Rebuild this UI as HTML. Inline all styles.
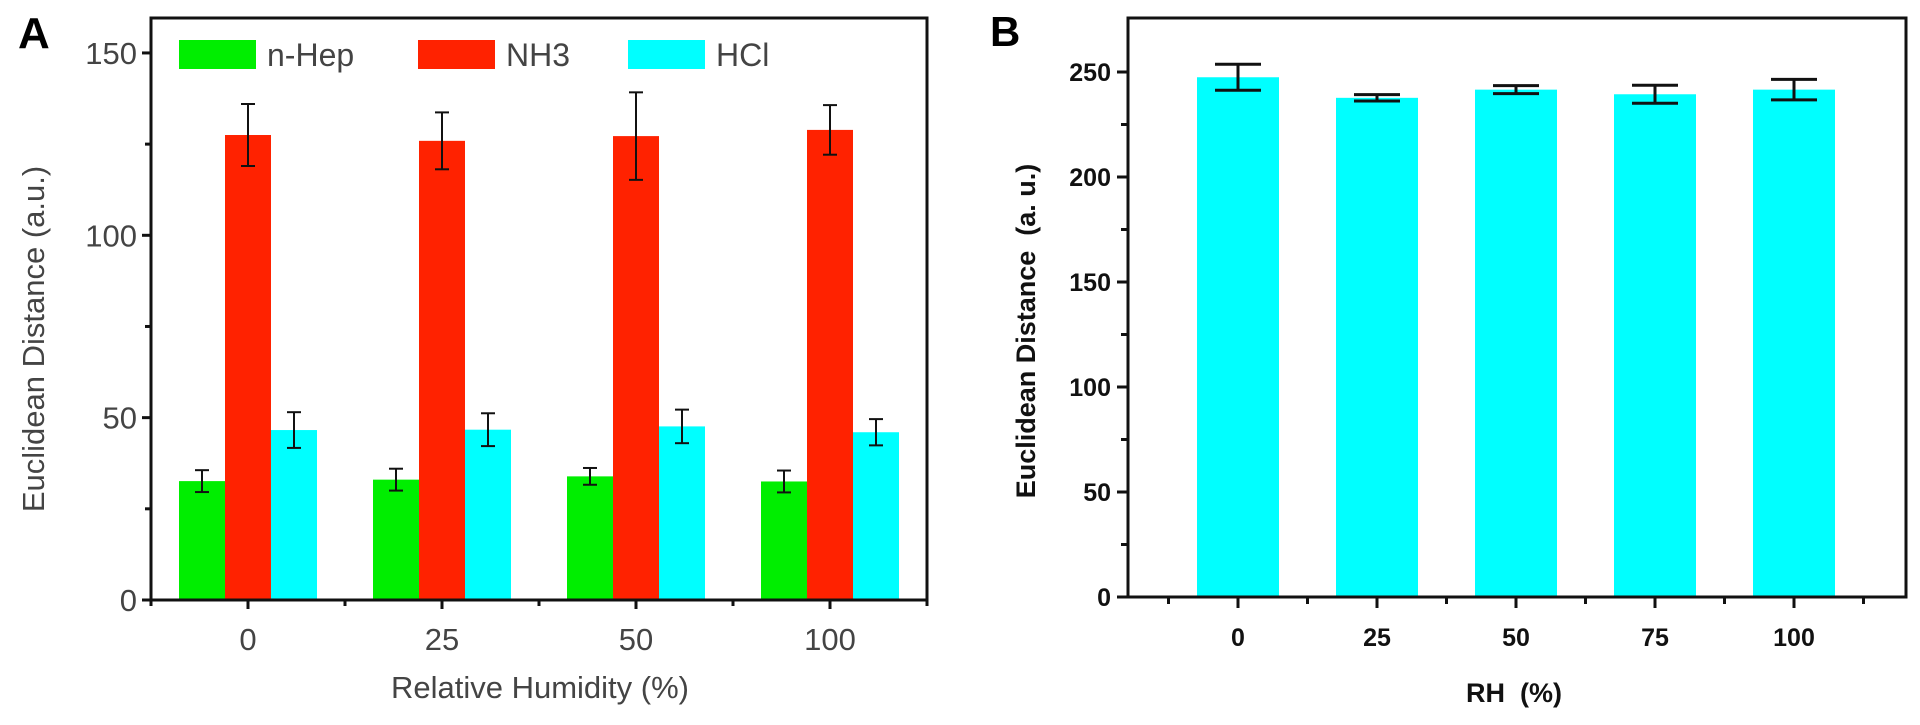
<!DOCTYPE html>
<html><head><meta charset="utf-8"><style>
html,body{margin:0;padding:0;background:#fff;width:1920px;height:725px;overflow:hidden}
svg{display:block}
</style></head><body>
<svg id="fig" width="1920" height="725" xmlns="http://www.w3.org/2000/svg">
<g id="pa"></g>
<g id="pb"></g>
</svg>
<script>
// Panel A data
const aCategories = ["0","25","50","100"];
const aSeriesNames = ["n-Hep","NH3","HCl"];
const aHep = [32.6, 33, 33.9, 32.5];
const aHepErr = [3, 3, 2.3, 3];
const aNH3 = [127.5, 125.9, 127.2, 128.9];
const aNH3Err = [8.5, 7.8, 12, 6.8];
const aHCl = [46.6, 46.7, 47.6, 46];
const aHClErr = [4.9, 4.5, 4.6, 3.6];
const aYTicks = [0, 50, 100, 150];
// Panel B data
const bCategories = ["0","25","50","75","100"];
const bValues = [247.5, 237.7, 241.6, 239.4, 241.6];
const bErr = [6.2, 1.5, 1.9, 4.3, 4.9];
const bYTicks = [0, 50, 100, 150, 200, 250];

const NS = "http://www.w3.org/2000/svg";
function mk(parent, tag, attrs, text){
  const e = document.createElementNS(NS, tag);
  for (const k in attrs) e.setAttribute(k, attrs[k]);
  if (text !== undefined) e.textContent = text;
  parent.appendChild(e);
  return e;
}

// ---------- Panel A ----------
(function(){
  const g = document.getElementById('pa');
  const L=151, R=927, T=18, B=600;
  const yA = v => B - v*3.647;
  const xA = i => 248 + i*194;
  const bw = 46;
  const colors = ["#00ee00","#ff2200","#00ffff"];
  const vals = [aHep, aNH3, aHCl];
  const errs = [aHepErr, aNH3Err, aHClErr];
  const font = '"Liberation Sans", sans-serif';
  for (let s=0; s<3; s++){
    for (let i=0; i<aCategories.length; i++){
      const cx = xA(i) + (s-1)*bw;
      const v = vals[s][i];
      const r = mk(g,'rect',{x:cx-bw/2,y:yA(v),width:bw,height:B-yA(v),fill:colors[s]});
      
      
    }
  }
  for (let s=0; s<3; s++){
    for (let i=0; i<aCategories.length; i++){
      const cx = xA(i) + (s-1)*bw;
      const v = vals[s][i], e = errs[s][i];
      const eg = mk(g,'g',{stroke:"#111","stroke-width":2});
      
      
      mk(eg,'line',{x1:cx,x2:cx,y1:yA(v+e),y2:yA(v-e)});
      mk(eg,'line',{x1:cx-7,x2:cx+7,y1:yA(v+e),y2:yA(v+e)});
      mk(eg,'line',{x1:cx-7,x2:cx+7,y1:yA(v-e),y2:yA(v-e)});
    }
  }
  const fr = mk(g,'rect',{x:L,y:T,width:R-L,height:B-T,fill:"none",stroke:"#111","stroke-width":3});
  
  
  for (const t of aYTicks){
    mk(g,'line',{x1:L-9,x2:L,y1:yA(t),y2:yA(t),stroke:"#111","stroke-width":3});
    const tx = mk(g,'text',{x:L-14,y:yA(t)+11,"text-anchor":"end","font-family":font,"font-size":31,fill:"#444"},String(t));
    
    
  }
  for (let t=25; t<150; t+=50){
    mk(g,'line',{x1:L-6,x2:L,y1:yA(t),y2:yA(t),stroke:"#111","stroke-width":3});
  }
  for (let i=0;i<aCategories.length;i++){
    mk(g,'line',{x1:xA(i),x2:xA(i),y1:B,y2:B+9,stroke:"#111","stroke-width":3});
    const tx = mk(g,'text',{x:xA(i),y:B+50,"text-anchor":"middle","font-family":font,"font-size":31,fill:"#444"},aCategories[i]);
    
    
  }
  for (let i=0;i<=aCategories.length;i++){
    const x = xA(i)-97;
    mk(g,'line',{x1:x,x2:x,y1:B,y2:B+6,stroke:"#111","stroke-width":3});
  }
  const yt = mk(g,'text',{x:0,y:0,transform:"translate(44,339) rotate(-90)","text-anchor":"middle","font-family":font,"font-size":31,fill:"#444"},"Euclidean Distance (a.u.)");
  
  
  const xt = mk(g,'text',{x:540,y:698,"text-anchor":"middle","font-family":font,"font-size":31,fill:"#444"},"Relative Humidity (%)");
  
  
  const pl = mk(g,'text',{x:18,y:48,"font-family":font,"font-size":44,"font-weight":"bold",fill:"#000"},"A");
  
  
  const lx = [179, 418, 628];
  for (let s=0;s<3;s++){
    const lg = mk(g,'g',{});
    
    
    mk(lg,'rect',{x:lx[s],y:40,width:77,height:29,fill:colors[s]});
    mk(lg,'text',{x:lx[s]+88,y:66,"font-family":font,"font-size":32,fill:"#444"},aSeriesNames[s]);
  }
})();

// ---------- Panel B ----------
(function(){
  const g = document.getElementById('pb');
  const L=1128, R=1906, T=18, B=597;
  const yB = v => B - v*2.1;
  const xB = i => 1238 + i*139;
  const bw = 82;
  const font = '"Liberation Sans", sans-serif';
  for (let i=0;i<bCategories.length;i++){
    const r = mk(g,'rect',{x:xB(i)-bw/2,y:yB(bValues[i]),width:bw,height:B-yB(bValues[i]),fill:"#00ffff"});
    
    
  }
  for (let i=0;i<bCategories.length;i++){
    const cx = xB(i), v=bValues[i], e=bErr[i];
    const eg = mk(g,'g',{stroke:"#111","stroke-width":3});
    
    
    mk(eg,'line',{x1:cx,x2:cx,y1:yB(v+e),y2:yB(v-e)});
    mk(eg,'line',{x1:cx-23,x2:cx+23,y1:yB(v+e),y2:yB(v+e)});
    mk(eg,'line',{x1:cx-23,x2:cx+23,y1:yB(v-e),y2:yB(v-e)});
  }
  const fr = mk(g,'rect',{x:L,y:T,width:R-L,height:B-T,fill:"none",stroke:"#111","stroke-width":3});
  
  
  for (const t of bYTicks){
    mk(g,'line',{x1:L-11,x2:L,y1:yB(t),y2:yB(t),stroke:"#111","stroke-width":3});
    const tx = mk(g,'text',{x:L-17,y:yB(t)+9,"text-anchor":"end","font-family":font,"font-size":25,"font-weight":"bold",fill:"#111"},String(t));
    
    
  }
  for (let t=25;t<260;t+=50){
    mk(g,'line',{x1:L-7,x2:L,y1:yB(t),y2:yB(t),stroke:"#111","stroke-width":3});
  }
  for (let i=0;i<bCategories.length;i++){
    mk(g,'line',{x1:xB(i),x2:xB(i),y1:B,y2:B+11,stroke:"#111","stroke-width":3});
    const tx = mk(g,'text',{x:xB(i),y:B+49,"text-anchor":"middle","font-family":font,"font-size":25,"font-weight":"bold",fill:"#111"},bCategories[i]);
    
    
  }
  for (let i=0;i<=bCategories.length;i++){
    const x = xB(i)-69.5;
    mk(g,'line',{x1:x,x2:x,y1:B,y2:B+7,stroke:"#111","stroke-width":3});
  }
  const yt = mk(g,'text',{x:0,y:0,transform:"translate(1035,331) rotate(-90)","text-anchor":"middle","font-family":font,"font-size":27,"font-weight":"bold",fill:"#111"},"Euclidean Distance \u00a0(a. u.)");
  
  
  const xt = mk(g,'text',{x:1514,y:702,"text-anchor":"middle","font-family":font,"font-size":27,"font-weight":"bold",fill:"#111"},"RH \u00a0(%)");
  
  
  const pl = mk(g,'text',{x:990,y:46,"font-family":font,"font-size":42,"font-weight":"bold",fill:"#000"},"B");
  
  
})();
</script>
</body></html>
